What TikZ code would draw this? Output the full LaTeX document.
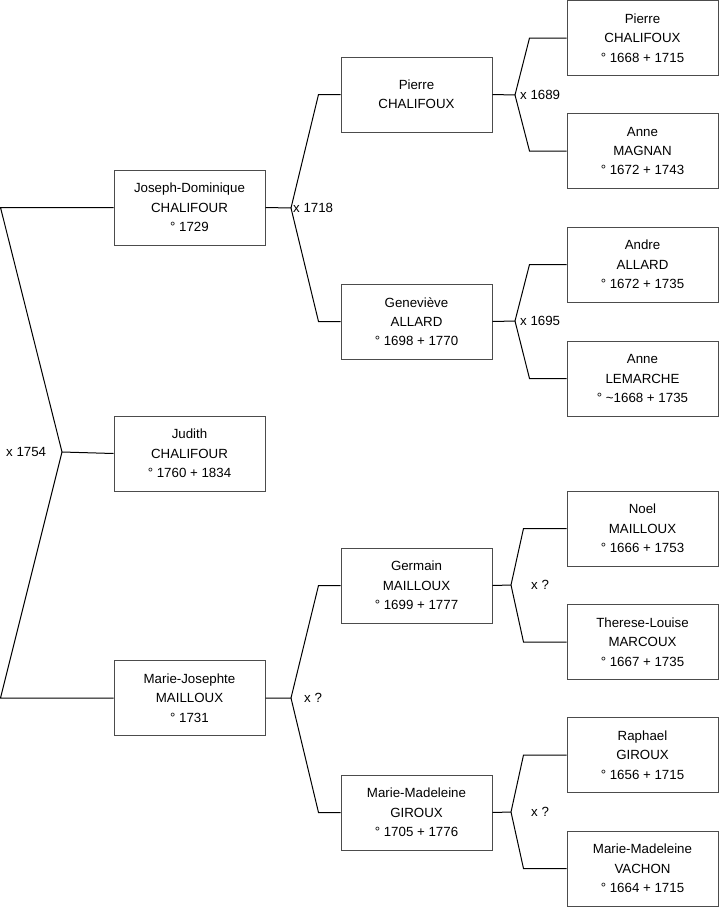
\documentclass[tikz,border=0pt]{standalone}
\usepackage{fontspec}
\setmainfont{Liberation Sans}
\usetikzlibrary{positioning,calc}

\begin{document}
\begin{tikzpicture}[
  x=1pt, y=-1pt,
  person/.style={draw=black!70, line width=1pt, minimum width=151pt, minimum height=75pt,
    inner sep=0pt, align=center, font=\fontsize{13.3}{19.3}\selectfont},
  link/.style={draw=black, line width=1pt},
  mar/.style={anchor=west, inner sep=0pt, font=\fontsize{13.3}{15}\selectfont}
]
\useasboundingbox (0,0) rectangle (719,908);
% generation 1
\node[person] (jd) at (189.5,207.5) {Joseph-Dominique\\CHALIFOUR\\° 1729};
\node[person] (ju) at (189.5,453.5) {Judith\\CHALIFOUR\\° 1760 + 1834};
\node[person] (mj) at (189.5,698) {Marie-Josephte\\MAILLOUX\\° 1731};
% generation 2
\node[person] (pc) at (416.5,94.5) {Pierre\\CHALIFOUX};
\node[person] (ga) at (416.5,321.5) {Geneviève\\ALLARD\\° 1698 + 1770};
\node[person] (gm) at (416.5,585.5) {Germain\\MAILLOUX\\° 1699 + 1777};
\node[person] (mg) at (416.5,812.5) {Marie-Madeleine\\GIROUX\\° 1705 + 1776};
% generation 3
\node[person] (pc2) at (642.5,38) {Pierre\\CHALIFOUX\\° 1668 + 1715};
\node[person] (am) at (642.5,151) {Anne\\MAGNAN\\° 1672 + 1743};
\node[person] (aa) at (642.5,264.5) {Andre\\ALLARD\\° 1672 + 1735};
\node[person] (al) at (642.5,378.5) {Anne\\LEMARCHE\\° \char`\~1668 + 1735};
\node[person] (nm) at (642.5,528.5) {Noel\\MAILLOUX\\° 1666 + 1753};
\node[person] (tm) at (642.5,642) {Therese-Louise\\MARCOUX\\° 1667 + 1735};
\node[person] (rg) at (642.5,755) {Raphael\\GIROUX\\° 1656 + 1715};
\node[person] (mv) at (642.5,868.5) {Marie-Madeleine\\VACHON\\° 1664 + 1715};

% fork points
\coordinate (k0) at (62,452);
\coordinate (k1) at (291,208);
\coordinate (k2) at (291,698);
\coordinate (k3) at (515,95);
\coordinate (k4) at (515,321);
\coordinate (k5) at (511,585);
\coordinate (k6) at (511,812);

% unions
\draw[link] (jd.west) -- ++(-113,0) -- (k0) -- (ju.west);
\draw[link] (k0) -- ([xshift=-113pt]mj.west) -- (mj.west);
\draw[link] (jd.east) -- (k1) -- ([xshift=-22pt]pc.west) -- (pc.west);
\draw[link] (k1) -- ([xshift=-22pt]ga.west) -- (ga.west);
\draw[link] (mj.east) -- (k2) -- ([xshift=-22pt]gm.west) -- (gm.west);
\draw[link] (k2) -- ([xshift=-22pt]mg.west) -- (mg.west);
\draw[link] (pc.east) -- (k3) -- ([xshift=-37pt]pc2.west) -- (pc2.west);
\draw[link] (k3) -- ([xshift=-37pt]am.west) -- (am.west);
\draw[link] (ga.east) -- (k4) -- ([xshift=-37pt]aa.west) -- (aa.west);
\draw[link] (k4) -- ([xshift=-37pt]al.west) -- (al.west);
\draw[link] (gm.east) -- (k5) -- ([xshift=-43pt]nm.west) -- (nm.west);
\draw[link] (k5) -- ([xshift=-43pt]tm.west) -- (tm.west);
\draw[link] (mg.east) -- (k6) -- ([xshift=-43pt]rg.west) -- (rg.west);
\draw[link] (k6) -- ([xshift=-43pt]mv.west) -- (mv.west);

% marriage labels
\node[mar] (m0) at (6,452) {x 1754};
\node[mar] (m1) at (293,208) {x 1718};
\node[mar] (m2) at (304,698) {x ?};
\node[mar] (m3) at (520,95) {x 1689};
\node[mar] (m4) at (520,321) {x 1695};
\node[mar] (m5) at (531,585) {x ?};
\node[mar] (m6) at (531,812) {x ?};
\end{tikzpicture}
\end{document}
